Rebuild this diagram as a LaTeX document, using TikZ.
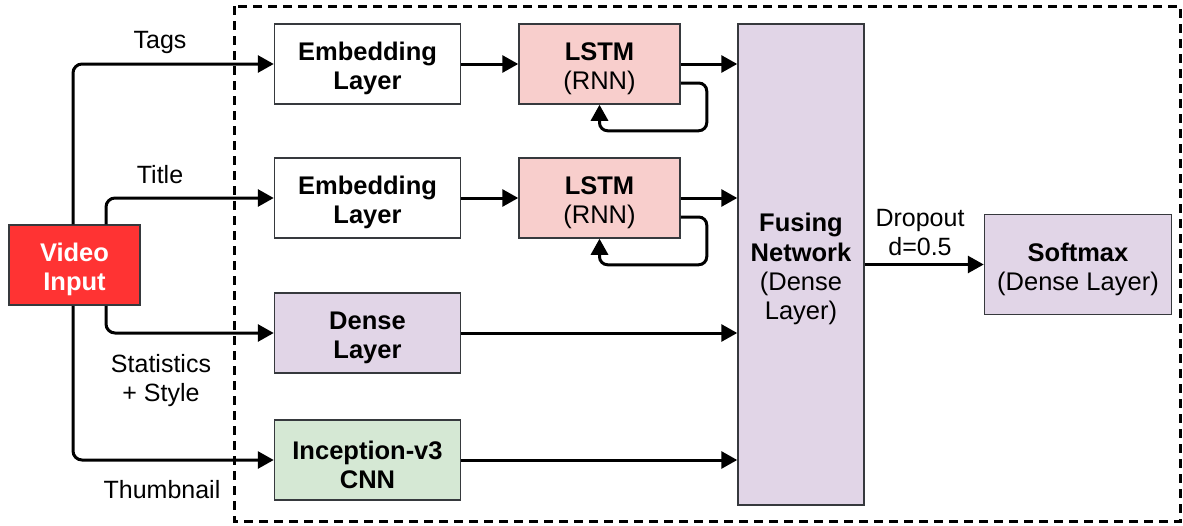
\documentclass[tikz,border=0pt]{standalone}
\usepackage{fontspec}
\setmainfont{Liberation Sans}
\usetikzlibrary{arrows.meta}
\definecolor{vidred}{HTML}{FF3333}
\definecolor{lstmpink}{HTML}{F8CECC}
\definecolor{densepurple}{HTML}{E1D5E7}
\definecolor{cnngreen}{HTML}{D5E8D4}
\definecolor{edge}{HTML}{36393D}
% taller first line so block text sits a little lower in its box
\newcommand\boxstrut{\rule{0pt}{27.5pt}}
\tikzset{
  box/.style={draw=edge, line width=1.5pt, rectangle, align=center,
    font=\fontsize{25.5}{29.2}\selectfont, inner sep=0pt},
  lbl/.style={align=center, font=\fontsize{25}{29}\selectfont, inner sep=0pt},
  arr/.style={line width=3pt, -{Triangle[length=16pt,width=17pt]}, rounded corners=9pt},
}
\begin{document}
\begin{tikzpicture}[x=1pt,y=-1pt]
\useasboundingbox (0,0) rectangle (1183,525);
% model boundary
\draw[line width=3pt, dash pattern=on 9pt off 6pt] (234,6) rectangle (1180.5,521);

% input
\node[box, fill=vidred, text=white, minimum width=131pt, minimum height=80pt] (vid) at (74.5,265) {\boxstrut\textbf{Video}\\\textbf{Input}};

% branch blocks
\node[box, fill=white, minimum width=186pt, minimum height=80pt] (emb1) at (367.5,64) {\boxstrut\textbf{Embedding}\\\textbf{Layer}};
\node[box, fill=white, minimum width=186pt, minimum height=80pt] (emb2) at (367.5,198) {\boxstrut\textbf{Embedding}\\\textbf{Layer}};
\node[box, fill=densepurple, minimum width=186pt, minimum height=80pt] (dense) at (367.5,333) {\boxstrut\textbf{Dense}\\\textbf{Layer}};
\node[box, fill=cnngreen, minimum width=186pt, minimum height=80pt] (cnn) at (367.5,460) {\boxstrut\textbf{Inception-v3}\\\textbf{CNN}};

\node[box, fill=lstmpink, minimum width=161pt, minimum height=80pt] (lstm1) at (599.5,64) {\boxstrut\textbf{LSTM}\\(RNN)};
\node[box, fill=lstmpink, minimum width=161pt, minimum height=80pt] (lstm2) at (599.5,198) {\boxstrut\textbf{LSTM}\\(RNN)};

\node[box, fill=densepurple, minimum width=126pt, minimum height=481pt] (fus) at (801,264.5) {\boxstrut\textbf{Fusing}\\\textbf{Network}\\(Dense\\Layer)};
\node[box, fill=densepurple, minimum width=187pt, minimum height=100pt] (soft) at (1078,264.5) {\boxstrut\textbf{Softmax}\\(Dense Layer)};

% input routing
\draw[arr] ([xshift=-1.5pt]vid.north) |- (emb1.west);
\draw[arr] ([xshift=31.5pt]vid.north) |- (emb2.west);
\draw[arr] ([xshift=31.5pt]vid.south) |- (dense.west);
\draw[arr] ([xshift=-1.5pt]vid.south) |- (cnn.west);

% recurrent branches
\draw[arr] (emb1.east) -- (lstm1.west);
\draw[arr] (emb2.east) -- (lstm2.west);
\draw[arr] (lstm1.east) -- (lstm1.east -| fus.west);
\draw[arr] (lstm2.east) -- (lstm2.east -| fus.west);
\draw[arr, rounded corners=8pt] ([yshift=-19pt]lstm1.east) -- ++(26,0) |- ([yshift=-26pt]lstm1.south) -- (lstm1.south);
\draw[arr, rounded corners=8pt] ([yshift=-19pt]lstm2.east) -- ++(26,0) |- ([yshift=-26pt]lstm2.south) -- (lstm2.south);

% direct branches
\draw[arr] (dense.east) -- (dense.east -| fus.west);
\draw[arr] (cnn.east) -- (cnn.east -| fus.west);

% output
\draw[arr] (fus.east) -- (soft.west);

% labels
\node[lbl] (tags) at (160,42) {Tags};
\node[lbl] (title) at (160,175) {Title};
\node[lbl] (stats) at (161,381) {Statistics\\+ Style};
\node[lbl] (thumb) at (162,490) {Thumbnail};
\node[lbl] (drop) at (920,233) {Dropout\\d=0.5};
\end{tikzpicture}
\end{document}
